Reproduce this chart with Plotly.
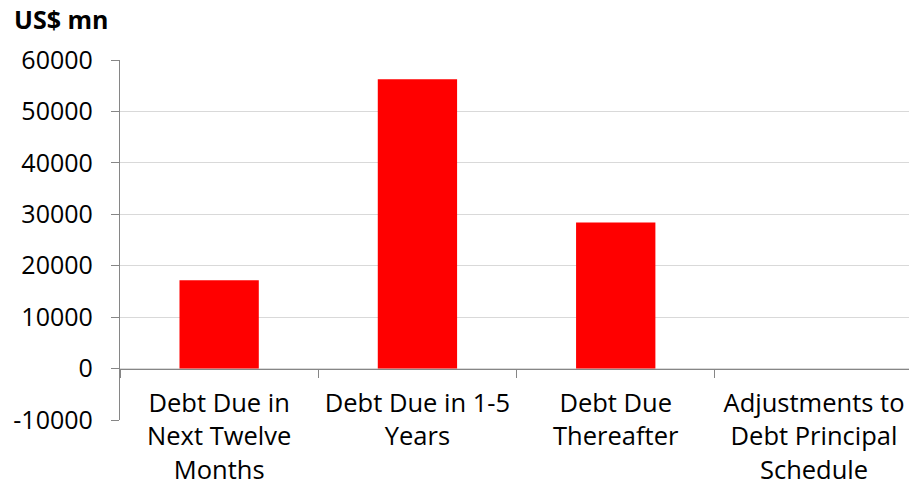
import plotly.graph_objects as go

categories = ["Debt Due in<br>Next Twelve<br>Months",
              "Debt Due in 1-5<br>Years",
              "Debt Due<br>Thereafter",
              "Adjustments to<br>Debt Principal<br>Schedule"]
values = [17150, 56250, 28400, 0]

y_ticks = [-10000, 0, 10000, 20000, 30000, 40000, 50000, 60000]

axis_grey = "#868686"
font_name = "Open Sans"

fig = go.Figure()
fig.add_trace(go.Bar(x=categories, y=values, marker_color="#ff0000",
                     marker_line_width=0))

fig.update_layout(
    width=909, height=491,
    margin=dict(l=120, r=0, t=60, b=71),
    paper_bgcolor="white", plot_bgcolor="white",
    bargap=0.6,
    showlegend=False,
    font=dict(family=font_name, size=25, color="#000000"),
    title=dict(text="<b>US$ mn</b>", xref="container", yref="container",
               x=14/909, xanchor="left", y=1-20/491, yanchor="middle",
               font=dict(family=font_name, size=25, color="#000000"),
               automargin=False),
)

fig.update_xaxes(range=[-0.5, 3.479], anchor="free", position=1/7,
                 showline=True, linecolor=axis_grey, linewidth=1.3,
                 ticks="outside", tickson="boundaries", ticklen=8,
                 tickcolor=axis_grey, tickwidth=1.3, showgrid=False,
                 tickangle=0, ticklabelstandoff=12, automargin=False,
                 tickfont=dict(size=25.5))

fig.update_yaxes(range=[-10000, 60000], tickvals=y_ticks,
                 ticktext=[str(v) for v in y_ticks],
                 showline=True, linecolor=axis_grey, linewidth=1.3,
                 ticks="outside", ticklen=8, tickcolor=axis_grey, tickwidth=1.3,
                 showgrid=True, gridcolor="#d9d9d9", gridwidth=1.3,
                 zeroline=False, ticklabelstandoff=13, automargin=False)

# drop the page's default body margin so the figure sits at the window corner
fig.write_html("out.html", config={"displayModeBar": False},
               post_script="document.body.style.margin='0';"
                           "document.body.style.overflow='hidden';")
